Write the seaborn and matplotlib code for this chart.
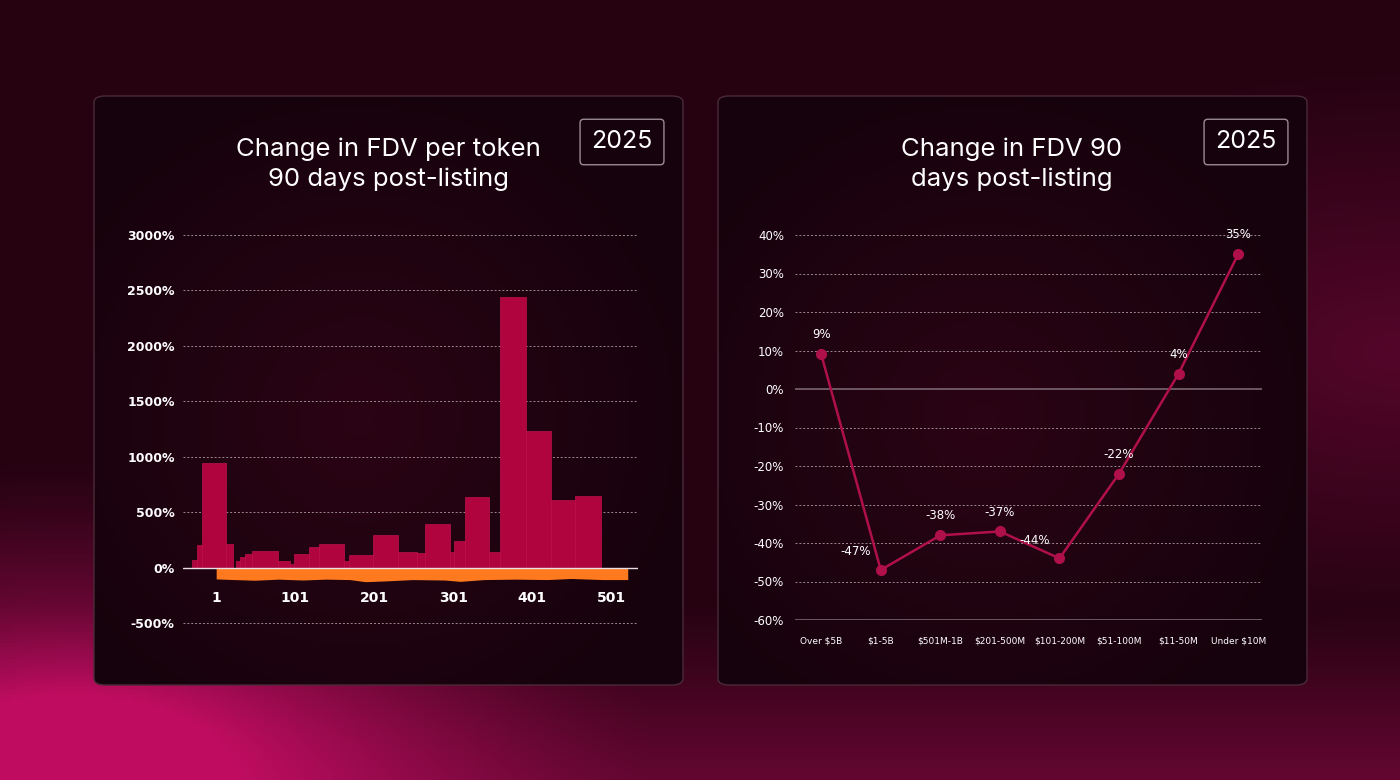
import numpy as np
import pandas as pd
import matplotlib
matplotlib.use('Agg')
import matplotlib.pyplot as plt
import seaborn as sns
from matplotlib.patches import FancyBboxPatch

# --- left chart data: token bins (start, end) and % change in FDV
bar_start = [-29, -23, -17, 14, 26, 31, 37, 46, 79, 95, 100, 119, 131, 163, 169, 200, 231, 255, 265, 297, 302, 316, 347, 360, 393, 425, 455]
bar_end = [-23, -17, 14, 22, 31, 37, 46, 79, 95, 100, 119, 131, 163, 169, 200, 231, 255, 265, 297, 302, 316, 347, 360, 393, 425, 455, 488]
bar_value = [72, 208, 940, 214, 63, 100, 123, 148, 63, 33, 123, 184, 217, 63, 114, 295, 138, 130, 397, 138, 238, 641, 138, 2440, 1232, 614, 650]

# orange negative band, sampled along the token index
neg_x = [1, 20, 50, 80, 110, 140, 170, 190, 215, 250, 290, 310, 340, 380, 420, 450, 490, 522]
neg_y = [-100, -105, -112, -102, -110, -102, -106, -125, -118, -106, -110, -122, -106, -102, -106, -96, -106, -106]

x_ticks_left = [1, 101, 201, 301, 401, 501]
y_ticks_left = [-500, 0, 500, 1000, 1500, 2000, 2500, 3000]

# --- right chart data
fdv_buckets = ['Over $5B', '$1-5B', '$501M-1B', '$201-500M', '$101-200M', '$51-100M', '$11-50M', 'Under $10M']
fdv_change = [9, -47, -38, -37, -44, -22, 4, 35]
y_ticks_right = [-60, -50, -40, -30, -20, -10, 0, 10, 20, 30, 40]

sns.set_theme(style='dark')
plt.rcParams['font.family'] = ['DejaVu Sans']

W, H = 1400, 780
fig = plt.figure(figsize=(14, 7.8), dpi=100)

# background gradient
bg = fig.add_axes([0, 0, 1, 1], zorder=-2)
yy, xx = np.mgrid[0:1:200j, 0:1:360j]
base = np.array([0.15, 0.01, 0.07])
glow = np.array([0.75, 0.05, 0.38])
w1 = np.clip(1 - np.hypot((xx - 0.05) * 2.4, (yy - 0.95) * 2.8), 0, 1) ** 1.3
w2 = np.clip(yy - 0.78, 0, 1) * 1.8
w3 = np.clip(1 - np.hypot((xx - 1.0) * 2.8, (yy - 0.45) * 2.8), 0, 1) * 0.3
w = np.clip(w1 + w2 + w3, 0, 1)[..., None]
img = base * (1 - w) + glow * w
bg.imshow(img, aspect='auto', extent=[0, 1, 1, 0])
bg.axis('off')

# panels with a faint inner glow
for x0 in [94, 718]:
    p = FancyBboxPatch((x0 / W, 1 - 685 / H), 589 / W, 589 / H,
                       boxstyle='round,pad=0,rounding_size=0.008',
                       transform=fig.transFigure, facecolor='none',
                       edgecolor='#4a2a38', linewidth=1, zorder=5)
    pa = fig.add_axes([x0 / W, 1 - 685 / H, 589 / W, 589 / H], zorder=-1)
    py, px = np.mgrid[0:1:120j, 0:1:120j]
    g = np.clip(1 - np.hypot((px - 0.45) * 1.8, (py - 0.55) * 1.8), 0, 1) * 0.5
    pimg = np.array([0.09, 0.01, 0.05]) * (1 - g[..., None]) + np.array([0.25, 0.02, 0.11]) * g[..., None]
    im = pa.imshow(pimg, aspect='auto', extent=[0, 1, 1, 0])
    pa.axis('off')
    clip = FancyBboxPatch((0, 0), 1, 1, boxstyle='round,pad=0,rounding_size=0.015',
                          transform=pa.transAxes, facecolor='none', edgecolor='none')
    pa.add_patch(clip)
    im.set_clip_path(clip)
    fig.add_artist(p)

# titles and year boxes
fig.text(388 / W, 1 - 164 / H, 'Change in FDV per token\n90 days post-listing', color='white',
         fontsize=18.5, ha='center', va='center', linespacing=1.35, family='Inter')
fig.text(1012 / W, 1 - 164 / H, 'Change in FDV 90\ndays post-listing', color='white',
         fontsize=18.5, ha='center', va='center', linespacing=1.35, family='Inter')
for cx in [622, 1246]:
    fig.text(cx / W, 1 - 142 / H, '2025', color='white', fontsize=18, ha='center', va='center',
             family='Inter',
             bbox=dict(boxstyle='round,pad=0.45,rounding_size=0.15', facecolor='none',
                       edgecolor='#9a8a92', linewidth=1))

grid_kw = dict(color='#9a8890', linestyle=(0, (2, 2)), linewidth=0.7)

# left chart
ax1 = fig.add_axes([183 / W, 1 - 630 / H, (638 - 183) / W, (630 - 228) / H], zorder=2)
ax1.set_facecolor('none')
ax1.set_xlim(-41, 535)
ax1.set_ylim(-560, 3060)
for t in y_ticks_left:
    if t != 0:
        ax1.axhline(t, zorder=0, **grid_kw)
ax1.fill_between(neg_x, neg_y, 0, color='#ff7a1f', linewidth=0, zorder=2)
bars = pd.DataFrame({'start': bar_start, 'end': bar_end, 'value': bar_value})
ax1.bar(bars['start'], bars['value'], width=bars['end'] - bars['start'], align='edge',
        color='#b0043f', edgecolor='#c0104c', linewidth=0.5, zorder=3)
ax1.axhline(0, color='#e8dde2', linewidth=1, zorder=4)
ax1.set_yticks(y_ticks_left)
ax1.set_yticklabels([f'{t}%' for t in y_ticks_left])
ax1.set_xticks([])
for t in x_ticks_left:
    ax1.text(t, -270, str(t), color='white', fontsize=10, fontweight='bold',
             ha='center', va='center')
ax1.tick_params(axis='y', colors='white', labelsize=9, length=0, pad=6)
for lab in ax1.get_yticklabels():
    lab.set_fontweight('bold')
for s in ax1.spines.values():
    s.set_visible(False)

# right chart
ax2 = fig.add_axes([795 / W, 1 - 620 / H, (1262 - 795) / W, (620 - 235) / H], zorder=2)
ax2.set_facecolor('none')
ax2.set_xlim(-0.44, 7.4)
ax2.set_ylim(-60, 40)
for t in y_ticks_right:
    if t in (0, -60):
        ax2.axhline(t, color='#7a6670', linewidth=1.2, zorder=0)
    else:
        ax2.axhline(t, zorder=0, **grid_kw)
df = pd.DataFrame({'x': range(len(fdv_buckets)), 'y': fdv_change})
sns.lineplot(data=df, x='x', y='y', ax=ax2, color='#b0104a', linewidth=1.8,
             marker='o', markersize=8, markeredgewidth=0, zorder=3)
for i, v in enumerate(fdv_change):
    below = v in (-47, -44)
    ax2.annotate(f'{v}%', (i, v), xytext=(-18 if below else 0, 13 if below else 14),
                 textcoords='offset points', ha='center', va='center',
                 color='white', fontsize=8.5)
ax2.set_xticks(range(len(fdv_buckets)))
ax2.set_xticklabels(fdv_buckets)
ax2.set_yticks(y_ticks_right)
ax2.set_yticklabels([f'{t}%' for t in y_ticks_right])
ax2.tick_params(axis='y', colors='white', labelsize=8.5, length=0, pad=8)
ax2.tick_params(axis='x', colors='white', labelsize=6.5, length=0, pad=12)
ax2.set_xlabel('')
ax2.set_ylabel('')
for s in ax2.spines.values():
    s.set_visible(False)

fig.savefig('out.png', dpi=100)
